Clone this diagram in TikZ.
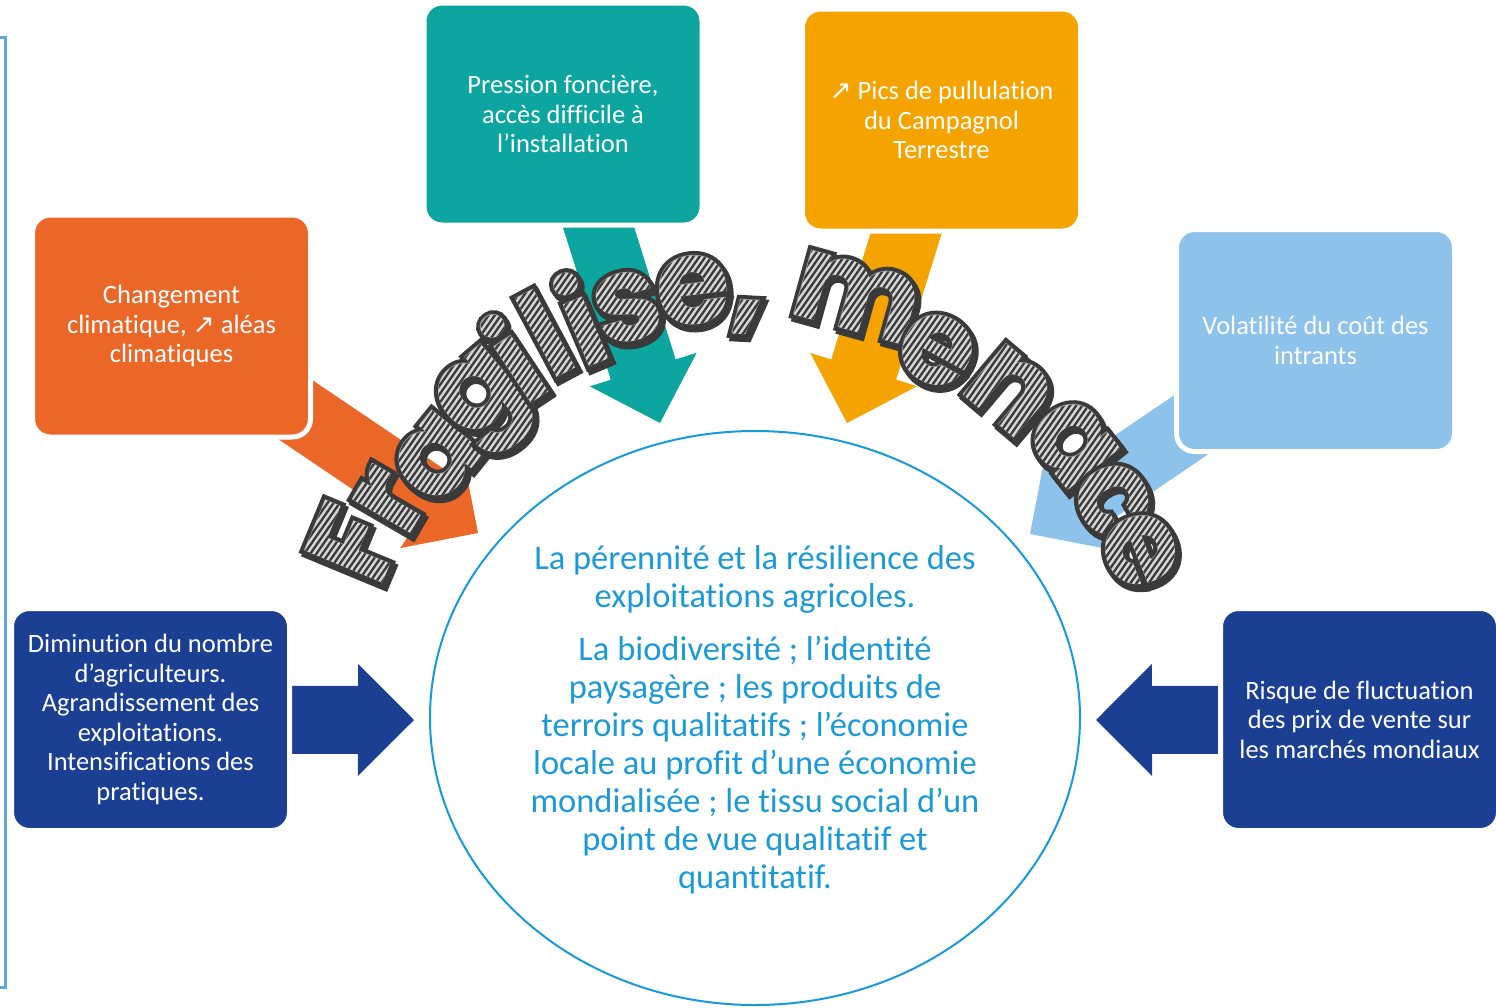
\documentclass[tikz,border=0pt]{standalone}
\usepackage{fontspec}
\usepackage{graphicx}
\setmainfont{Carlito}[Ligatures=NoCommon]
\newfontfamily\symfont{DejaVu Sans}
\newfontfamily\arcfont{Poppins}
\newfontfamily\arcfontO{Poppins}[BoldFeatures={FakeBold=7.5}]
\usetikzlibrary{calc,backgrounds,shapes.geometric}
\definecolor{tealc}{RGB}{13,165,160}
\definecolor{orangec}{RGB}{245,163,0}
\definecolor{redc}{RGB}{235,103,40}
\definecolor{lbluec}{RGB}{141,195,234}
\definecolor{dbluec}{RGB}{27,63,146}
\definecolor{ellc}{RGB}{20,155,222}
\definecolor{ctextc}{RGB}{27,154,216}
\definecolor{brackc}{RGB}{90,168,220}
\definecolor{outc}{RGB}{58,58,58}
\definecolor{fillc}{RGB}{150,150,150}
\definecolor{lightc}{RGB}{214,214,214}
\tikzset{
  box/.style={rounded corners=18pt, draw=white, line width=5pt, minimum width=278pt,
    minimum height=222pt, inner sep=0pt, text=white, align=center,
    font=\fontsize{26.5}{29.5}\selectfont},
  ctext/.style={text=ctextc, align=center, inner sep=0pt, font=\fontsize{34.5}{38}\selectfont},
  arcl/.style={inner sep=0pt, font=\arcfont\bfseries\fontsize{120}{120}\selectfont},
  arco/.style={inner sep=0pt, text=outc, font=\arcfontO\bfseries\fontsize{120}{120}\selectfont},
}
\newcommand\blockarrow[3]{%
  \coordinate (bam) at ($(#2)!56pt!(#1)$);
  \fill[#3] ($(#1)!34pt!90:(#2)$) -- ($(bam)!34pt!-90:(#1)$) -- ($(bam)!56pt!-90:(#1)$)
    -- (#2) -- ($(bam)!56pt!90:(#1)$) -- ($(bam)!34pt!90:(#1)$) -- ($(#1)!34pt!-90:(#2)$) -- cycle;
}
\newcommand\stripebox{\hbox{\color{lightc}\rule{260pt}{260pt}\hskip-260pt\color{outc}%
  \leaders\hbox to 5pt{\rule{2.3pt}{260pt}\hfil}\hskip260pt}}
\newcommand\hatched[2]{%
  \setbox0=\hbox{#1}%
  \copy0
  \hskip-\wd0
  \special{pdf:literal direct q 7 Tr}%
  \copy0
  \special{pdf:literal direct 0 Tr}%
  \hskip-\wd0
  \hbox to \wd0{\hss\smash{\raisebox{\dimexpr(\ht0-\dp0)/2-130pt\relax}{\rotatebox[origin=c]{#2}{\stripebox}}}\hss}%
  \special{pdf:literal direct Q}%
}
\newcommand\arcletter[5]{%
  \node[arco, rotate=#5] (L#1s) at ($(#3,#4)+(2.5,3.5)$) {#2};
  \node[arco, rotate=#5] (L#1o) at (#3,#4) {#2};
  \pgfmathsetmacro\stripeang{-35-#5}%
  \node[arcl, text=fillc, rotate=#5] (L#1) at (#3,#4) {\hatched{#2}{\stripeang}};
}
\begin{document}
\begin{tikzpicture}[x=1pt,y=-1pt]
\useasboundingbox (0,0) rectangle (1496,1007);
% left bracket
\draw[brackc, line width=3pt] (0,37.5) -- (5.7,37.5) -- (5.7,987.5) -- (0,987.5);
% boxes
\node[box, fill=tealc] (teal) at (563,114) {Pression foncière,\\accès difficile à\\l’installation};
\node[box, fill=orangec] (orng) at (941.5,120) {{\symfont ↗} Pics de pullulation\\du Campagnol\\Terrestre};
\node[box, fill=redc] (red) at (171.5,326) {Changement\\climatique, {\symfont ↗} aléas\\climatiques};
\node[box, fill=lbluec] (lblue) at (1315.5,340.5) {Volatilité du coût des\\intrants};
\node[box, fill=dbluec] (dbl) at (150.5,719.5) {Diminution du nombre\\d’agriculteurs.\\Agrandissement des\\exploitations.\\Intensifications des\\pratiques.};
\node[box, fill=dbluec] (dbr) at (1359.5,719.5) {Risque de fluctuation\\des prix de vente sur\\les marchés mondiaux};
% arrow tips
\coordinate (tteal) at (660,423);
\coordinate (torng) at (847,423);
\coordinate (tred) at (478,533);
\coordinate (tlblue) at (1030,534);
\coordinate (tdbl) at (414,720);
\coordinate (tdbr) at (1096,720);
\begin{pgfonlayer}{background}
\blockarrow{teal}{tteal}{tealc}
\blockarrow{orng}{torng}{orangec}
\blockarrow{red}{tred}{redc}
\blockarrow{lblue}{tlblue}{lbluec}
\blockarrow{dbl}{tdbl}{dbluec}
\blockarrow{dbr}{tdbr}{dbluec}
\end{pgfonlayer}
% central ellipse
\node[ellipse, draw=ellc, line width=2pt, minimum width=650pt, minimum height=574pt, inner sep=0pt] (ell) at (755,718) {};
\node[ctext] (t1) at (755,579) {La pérennité et la résilience des\\exploitations agricoles.};
\node[ctext] (t2) at (755,765) {La biodiversité ; l’identité\\paysagère ; les produits de\\terroirs qualitatifs ; l’économie\\locale au profit d’une économie\\mondialisée ; le tissu social d’un\\point de vue qualitatif et\\quantitatif.};
% arched word
\arcletter{1}{F}{353}{543}{67.5}
\arcletter{2}{r}{390}{500}{59.9}
\arcletter{3}{a}{437}{457}{51.1}
\arcletter{4}{g}{487}{403}{40.4}
\arcletter{5}{i}{513}{357}{33.6}
\arcletter{6}{l}{545}{333}{28.1}
\arcletter{7}{i}{580}{318}{23}
\arcletter{8}{s}{627}{307}{16.4}
\arcletter{9}{e}{693}{290}{7}
\arcletter{10}{,}{747}{317}{-3}
\arcletter{11}{m}{857}{297}{-15.5}
\arcletter{12}{e}{937}{350}{-28.5}
\arcletter{13}{n}{1010}{390}{-40.2}
\arcletter{14}{a}{1073}{443}{-51.5}
\arcletter{15}{c}{1113}{500}{-60.9}
\arcletter{16}{e}{1140}{550}{-68.6}
\end{tikzpicture}
\end{document}
